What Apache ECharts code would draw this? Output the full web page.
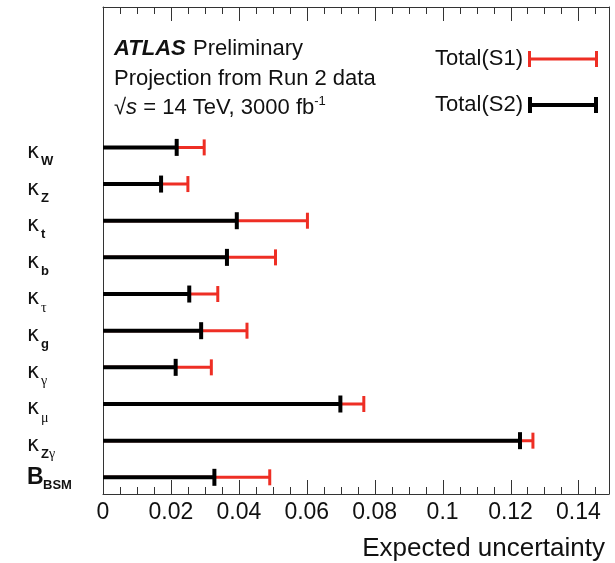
<!DOCTYPE html>
<html>
<head>
<meta charset="utf-8">
<style>
  html, body { margin: 0; padding: 0; background: #fff; }
  #chart { width: 615px; height: 563px; }
</style>
<script src="https://cdn.jsdelivr.net/npm/echarts@6/dist/echarts.min.js"></script>
</head>
<body>
<div id="chart"></div>
<script>
// couplings, top to bottom
var labelMain = ['κ', 'κ', 'κ', 'κ', 'κ', 'κ', 'κ', 'κ', 'κ', 'B'];
var labelSub = ['W', 'Z', 't', 'b', 'τ', 'g', 'γ', 'μ', 'Zγ', 'BSM'];

// expected uncertainty, scenario S1 (red) and S2 (black)
var totalS1 = [0.0298, 0.0250, 0.0602, 0.0508, 0.0338, 0.0424, 0.0319, 0.0768, 0.1266, 0.0491];
var totalS2 = [0.0217, 0.0171, 0.0394, 0.0365, 0.0254, 0.0289, 0.0214, 0.0699, 0.1228, 0.0328];

var xTicks = [0, 0.02, 0.04, 0.06, 0.08, 0.1, 0.12, 0.14];

var RED = '#ee2e24';
var BLACK = '#000000';
var FONT = 'Liberation Sans, Arial, Helvetica, sans-serif';

var X_MAX = 0.149;
var MINOR_PER_MAJOR = 4;

// rows are stacked from the top; y = 0 is the bottom frame, the space above
// the first row holds the text block
var BOTTOM_PAD = 0.455;
var TOP_PAD = 3.83;
var nRows = labelMain.length;
var Y_MAX = nRows - 1 + BOTTOM_PAD + TOP_PAD;
function rowY(i) { return nRows - 1 - i + BOTTOM_PAD; }

var chart = echarts.init(document.getElementById('chart'));

// build [value, row] pairs for the custom series
function rows(values) {
  return values.map(function (v, i) { return [v, rowY(i)]; });
}

// horizontal bar from 0 to value with a vertical cap at the end
function errorBar(thick, capW, capH, color) {
  return function (params, api) {
    var row = api.value(1);
    var start = api.coord([0, row]);
    var end = api.coord([api.value(0), row]);
    return {
      type: 'group',
      children: [
        { type: 'rect', shape: { x: start[0], y: end[1] - thick / 2, width: end[0] - start[0], height: thick }, style: { fill: color } },
        { type: 'rect', shape: { x: end[0] - capW / 2, y: end[1] - capH / 2, width: capW, height: capH }, style: { fill: color } }
      ]
    };
  };
}

function subRich(s) {
  return s.split('').map(function (c) {
    return /[α-ω]/.test(c) ? '{g|' + c + '}' : '{b|' + c + '}';
  }).join('');
}

function xAxis(pos) {
  return {
    type: 'value', position: pos, min: 0, max: X_MAX, interval: 0.02,
    axisLine: { show: true, onZero: false, lineStyle: { color: '#333', width: 1 } },
    axisTick: { show: false },
    splitLine: { show: false },
    axisLabel: {
      show: pos === 'bottom',
      fontSize: 23, fontFamily: FONT, color: '#111', margin: 7, showMaxLabel: false,
      formatter: function (v) { return xTicks.indexOf(+v.toFixed(2)) >= 0 ? String(+v.toFixed(2)) : ''; }
    }
  };
}

function yAxis(pos) {
  return {
    type: 'value', position: pos, min: 0, max: Y_MAX,
    axisLine: { show: true, onZero: false, lineStyle: { color: '#333', width: 1 } },
    axisTick: { show: false },
    axisLabel: { show: false },
    splitLine: { show: false }
  };
}

var textGraphics = [
  {
    id: 'atlas', type: 'text', x: 114, y: 49,
    style: {
      text: '{b|ATLAS} {n|Preliminary}', textVerticalAlign: 'middle',
      rich: {
        b: { fontSize: 22, fontFamily: FONT, fontWeight: 'bold', fontStyle: 'italic', fill: '#111' },
        n: { fontSize: 22, fontFamily: FONT, fill: '#111', padding: [0, 0, 0, 4] }
      }
    }
  },
  {
    id: 'proj', type: 'text', x: 114, y: 79,
    style: { text: 'Projection from Run 2 data', font: '22px ' + FONT, fill: '#111', textVerticalAlign: 'middle' }
  },
  {
    id: 'energy', type: 'text', x: 114, y: 108,
    style: {
      text: '{n|√}{i|s}{n| = 14 TeV, 3000 fb}{sup|-1}', textVerticalAlign: 'middle',
      rich: {
        n: { fontSize: 22, fontFamily: FONT, fill: '#111', lineHeight: 26 },
        i: { fontSize: 22, fontFamily: FONT, fontStyle: 'italic', fill: '#111', lineHeight: 26 },
        sup: { fontSize: 13, fontFamily: FONT, fill: '#111', lineHeight: 13, verticalAlign: 'top' }
      }
    }
  },
  {
    // x axis title
    id: 'xname', type: 'text', x: 605, y: 549,
    style: { text: 'Expected uncertainty', font: '26px ' + FONT, fill: '#111', textAlign: 'right', textVerticalAlign: 'middle' }
  }
];

chart.setOption({
  animation: false,
  grid: { left: 103, right: 6, top: 7, bottom: 69 },
  xAxis: [xAxis('bottom'), xAxis('top')],
  yAxis: [yAxis('left'), yAxis('right')],
  legend: {
    orient: 'vertical', left: 410, top: 41, align: 'right', itemGap: 20,
    itemWidth: 70, itemHeight: 16, selectedMode: false,
    textStyle: { fontSize: 22, fontFamily: FONT, color: '#111', lineHeight: 26, width: 108 },
    data: [
      { name: 'Total(S1)', icon: 'path://M0 0H3V6.5H67V0H70V16H67V9.5H3V16H0Z' },
      { name: 'Total(S2)', icon: 'path://M0 0H4V6H66V0H70V16H66V10H4V16H0Z' }
    ]
  },
  graphic: textGraphics,
  series: [
    {
      name: 'Total(S1)', type: 'custom', itemStyle: { color: RED },
      encode: { x: 0, y: 1 },
      renderItem: errorBar(3, 3, 16, RED),
      data: rows(totalS1)
    },
    {
      name: 'Total(S2)', type: 'custom', itemStyle: { color: BLACK },
      encode: { x: 0, y: 1 },
      renderItem: errorBar(4, 4, 17, BLACK),
      data: rows(totalS2)
    },
    {
      // row labels with subscripts
      name: 'labels', type: 'custom', silent: true,
      encode: { x: 0, y: 1 },
      renderItem: function (params, api) {
        var i = params.dataIndex;
        var p = api.coord([0, api.value(1)]);
        var isB = labelMain[i] === 'B';
        return {
          type: 'group',
          children: [
            {
              type: 'text',
              style: {
                x: 27, y: p[1] + (isB ? 0 : 5), text: labelMain[i], fill: '#111',
                font: isB ? 'bold 23px ' + FONT : '21px DejaVu Sans, sans-serif',
                textVerticalAlign: 'middle'
              }
            },
            {
              type: 'text',
              style: {
                x: isB ? 43 : 41, y: p[1] + (isB ? 8.5 : 14), text: subRich(labelSub[i]),
                textVerticalAlign: 'middle',
                rich: {
                  b: { fontSize: 13, fontFamily: FONT, fontWeight: 'bold', fill: '#111' },
                  g: { fontSize: 14, fontFamily: 'Liberation Serif, serif', fill: '#111' }
                }
              }
            }
          ]
        };
      },
      data: rows(labelMain.map(function () { return 0; }))
    }
  ]
});

// ROOT-style inward ticks on the bottom and top frame, placed through the axis scale
var step = (xTicks[1] - xTicks[0]) / MINOR_PER_MAJOR;
var yBottom = chart.convertToPixel({ yAxisIndex: 0 }, 0);
var yTop = chart.convertToPixel({ yAxisIndex: 0 }, Y_MAX);
var tickGraphics = [];
for (var k = 0; k * step <= X_MAX + 1e-9; k++) {
  var px = Math.round(chart.convertToPixel({ xAxisIndex: 0 }, k * step));
  var len = k % MINOR_PER_MAJOR === 0 ? 14 : 7;
  tickGraphics.push(
    { id: 'tb' + k, type: 'rect', z: 100, silent: true, shape: { x: px, y: yBottom - len, width: 1, height: len }, style: { fill: '#333' } },
    { id: 'tt' + k, type: 'rect', z: 100, silent: true, shape: { x: px, y: yTop, width: 1, height: len }, style: { fill: '#333' } }
  );
}
chart.setOption({ graphic: textGraphics.concat(tickGraphics) });
</script>
</body>
</html>
